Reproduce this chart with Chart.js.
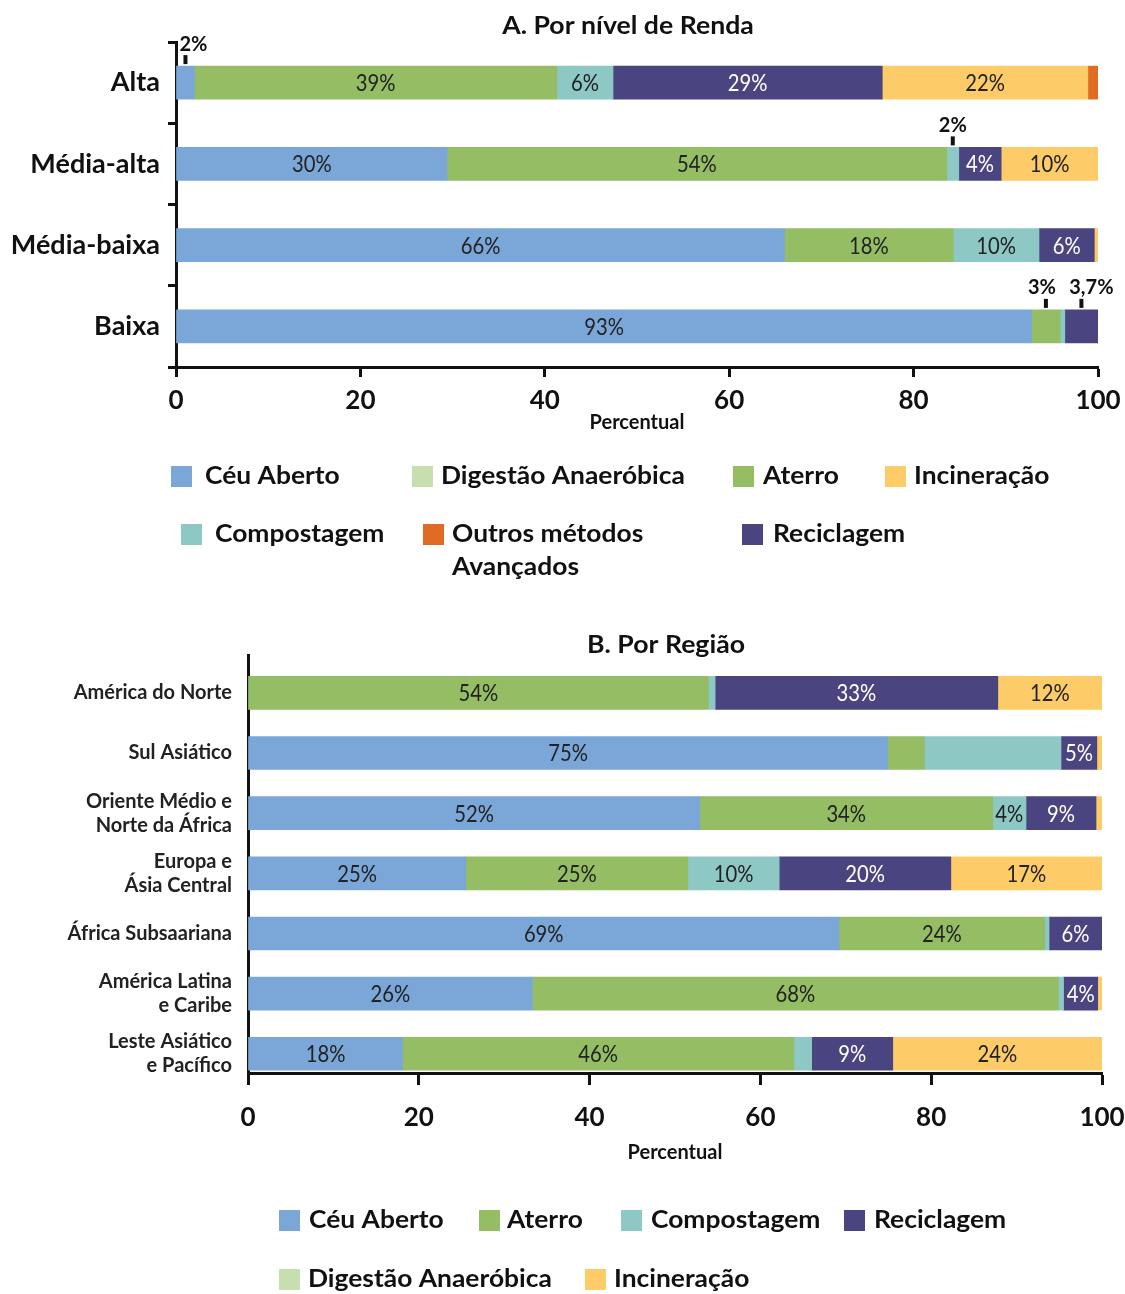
<!DOCTYPE html>
<html>
<head>
<meta charset="utf-8">
<script src="https://cdn.jsdelivr.net/npm/chart.js@4.4.1/dist/chart.umd.min.js"></script>
<style>
  html, body { margin: 0; padding: 0; background: #ffffff; width: 1125px; height: 1294px; overflow: hidden; }
  .panel { position: absolute; left: 0; }
</style>
</head>
<body>
<div class="panel" style="top:0px"><canvas id="chartA" width="1125" height="590"></canvas></div>
<div class="panel" style="top:590px"><canvas id="chartB" width="1125" height="704"></canvas></div>
<script>
// ---------- series ----------
const seriesNames = ['Céu Aberto', 'Aterro', 'Compostagem', 'Reciclagem', 'Incineração', 'Outros métodos Avançados', 'Digestão Anaeróbica'];
const seriesColors = ['#7BA6D8', '#95BD63', '#8DC8C5', '#4A4581', '#FDCB67', '#E06B22', '#C7DEAE'];
const seriesTextColors = ['#222222', '#222222', '#222222', '#ffffff', '#222222', '#222222', '#222222'];
const percentTicks = [0, 20, 40, 60, 80, 100];

// ---------- Panel A: Por nível de Renda ----------
const incomeGroups = ['Alta', 'Média-alta', 'Média-baixa', 'Baixa'];
const incomeCeuAberto   = [2.0, 29.4, 66.0, 92.8];
const incomeAterro      = [39.3, 54.2, 18.3, 3.1];
const incomeCompostagem = [6.1, 1.3, 9.3, 0.5];
const incomeReciclagem  = [29.2, 4.6, 6.0, 3.6];
const incomeIncineracao = [22.3, 10.5, 0.4, 0];
const incomeOutros      = [1.1, 0, 0, 0];
const incomeDigestao    = [0, 0, 0, 0];
const incomeTextCeu  = ['', '30%', '66%', '93%'];
const incomeTextAte  = ['39%', '54%', '18%', ''];
const incomeTextComp = ['6%', '', '10%', ''];
const incomeTextRec  = ['29%', '4%', '6%', ''];
const incomeTextInc  = ['22%', '10%', '', ''];
const incomeTextOut  = ['', '', '', ''];
const incomeTextDig  = ['', '', '', ''];
const incomeCalloutGroup  = ['Alta', 'Média-alta', 'Baixa', 'Baixa'];
const incomeCalloutSeries = ['Céu Aberto', 'Compostagem', 'Aterro', 'Reciclagem'];
const incomeCalloutText   = ['2%', '2%', '3%', '3,7%'];

// ---------- Panel B: Por Região ----------
const regionNames = [['América do Norte'], ['Sul Asiático'], ['Oriente Médio e', 'Norte da África'], ['Europa e', 'Ásia Central'], ['África Subsaariana'], ['América Latina', 'e Caribe'], ['Leste Asiático', 'e Pacífico']];
const regionCeuAberto   = [0, 74.9, 52.9, 25.5, 69.2, 33.3, 18.1];
const regionAterro      = [53.9, 4.3, 34.3, 26.0, 24.1, 61.6, 45.8];
const regionCompostagem = [0.8, 16.0, 3.9, 10.7, 0.5, 0.6, 2.1];
const regionReciclagem  = [33.1, 4.2, 8.2, 20.1, 6.2, 4.0, 9.5];
const regionIncineracao = [12.2, 0.6, 0.7, 17.7, 0, 0.5, 24.5];
const regionDigestao    = [0, 0, 0, 0, 0, 0, 0];
const regionTextCeu  = ['', '75%', '52%', '25%', '69%', '26%', '18%'];
const regionTextAte  = ['54%', '', '34%', '25%', '24%', '68%', '46%'];
const regionTextComp = ['', '', '4%', '10%', '', '', ''];
const regionTextRec  = ['33%', '5%', '9%', '20%', '6%', '4%', '9%'];
const regionTextInc  = ['12%', '', '', '17%', '', '', '24%'];
const regionTextDig  = ['', '', '', '', '', '', ''];

// ---------- helpers ----------
function makeDataset(name, values, texts) {
  const k = seriesNames.indexOf(name);
  return {
    label: name,
    data: values,
    texts: texts,
    textColor: seriesTextColors[k],
    backgroundColor: seriesColors[k],
    borderWidth: 0,
    barThickness: 33
  };
}

function stretchedText(ctx, text, x, y, sx, align) {
  ctx.save();
  ctx.translate(x, y);
  ctx.scale(sx, 1);
  ctx.textAlign = align;
  ctx.textBaseline = 'middle';
  ctx.fillText(text, 0, 0);
  ctx.restore();
}

const barTextPlugin = {
  id: 'barText',
  afterDatasetsDraw(chart) {
    const ctx = chart.ctx;
    chart.data.datasets.forEach((ds, di) => {
      const meta = chart.getDatasetMeta(di);
      meta.data.forEach((el, i) => {
        const t = ds.texts && ds.texts[i];
        if (!t) return;
        ctx.save();
        ctx.font = '23px Lato';
        ctx.fillStyle = ds.textColor;
        stretchedText(ctx, t, (el.x + el.base) / 2, el.y + 1, 0.88, 'center');
        ctx.restore();
      });
    });
  }
};

const calloutPlugin = {
  id: 'callouts',
  afterDatasetsDraw(chart, args, opts) {
    if (!opts.groups) return;
    const ctx = chart.ctx;
    opts.groups.forEach((g, k) => {
      const di = chart.data.datasets.findIndex(d => d.label === opts.series[k]);
      const ci = chart.data.labels.indexOf(g);
      const el = chart.getDatasetMeta(di).data[ci];
      const x = (el.x + el.base) / 2;
      const top = el.y - el.height / 2;
      ctx.save();
      ctx.fillStyle = '#111';
      ctx.fillRect(x - 2, top - 11, 4, 9);
      ctx.font = 'bold 20px Lato';
      stretchedText(ctx, opts.texts[k], x + opts.dx[k], top - 22, 1.0, 'center');
      ctx.restore();
    });
  }
};

const decorPlugin = {
  id: 'decor',
  afterDraw(chart, args, opts) {
    const ctx = chart.ctx;
    ctx.save();
    ctx.fillStyle = '#111';
    ctx.font = 'bold 24px Lato';
    stretchedText(ctx, opts.title, opts.titleX, opts.titleY, 1.11, 'center');
    ctx.font = 'bold 24px Lato';
    opts.legend.forEach(item => {
      const k = seriesNames.indexOf(item.name);
      ctx.fillStyle = seriesColors[k];
      ctx.fillRect(item.bx, item.y - 10, 21, 21);
      ctx.fillStyle = '#111';
      item.lines.forEach((ln, j) => stretchedText(ctx, ln, item.tx, item.y + j * 33, 1.1, 'left'));
    });
    ctx.restore();
  }
};

const axisFont = { family: 'Lato', size: 26, weight: 'bold' };
const noSidePadding = s => { s.paddingLeft = 0; s.paddingRight = 0; };

// ---------- Chart A ----------
new Chart(document.getElementById('chartA'), {
  type: 'bar',
  data: {
    labels: incomeGroups,
    datasets: [
      makeDataset('Céu Aberto', incomeCeuAberto, incomeTextCeu),
      makeDataset('Aterro', incomeAterro, incomeTextAte),
      makeDataset('Compostagem', incomeCompostagem, incomeTextComp),
      makeDataset('Reciclagem', incomeReciclagem, incomeTextRec),
      makeDataset('Incineração', incomeIncineracao, incomeTextInc),
      makeDataset('Outros métodos Avançados', incomeOutros, incomeTextOut),
      makeDataset('Digestão Anaeróbica', incomeDigestao, incomeTextDig)
    ]
  },
  options: {
    responsive: false,
    animation: false,
    indexAxis: 'y',
    layout: { padding: { top: 42, right: 27, bottom: 155, left: 0 } },
    plugins: {
      legend: { display: false },
      tooltip: { enabled: false },
      callouts: { groups: incomeCalloutGroup, series: incomeCalloutSeries, texts: incomeCalloutText, dx: [8, 0, -4, 10] },
      decor: {
        title: 'A. Por nível de Renda', titleX: 628, titleY: 26,
        legend: [
          { name: 'Céu Aberto', bx: 171, tx: 205, y: 476, lines: ['Céu Aberto'] },
          { name: 'Digestão Anaeróbica', bx: 412, tx: 441, y: 476, lines: ['Digestão Anaeróbica'] },
          { name: 'Aterro', bx: 733, tx: 763, y: 476, lines: ['Aterro'] },
          { name: 'Incineração', bx: 885, tx: 914, y: 476, lines: ['Incineração'] },
          { name: 'Compostagem', bx: 181, tx: 215, y: 534, lines: ['Compostagem'] },
          { name: 'Outros métodos Avançados', bx: 423, tx: 452, y: 534, lines: ['Outros métodos', 'Avançados'] },
          { name: 'Reciclagem', bx: 742, tx: 773, y: 534, lines: ['Reciclagem'] }
        ]
      }
    },
    scales: {
      x: {
        type: 'linear', min: 0, max: 100, stacked: true,
        afterBuildTicks: s => { s.ticks = percentTicks.map(v => ({ value: v })); },
        afterFit: s => { s.height = 68; noSidePadding(s); },
        grid: { drawOnChartArea: false, tickLength: 10, tickWidth: 3, color: '#111' },
        border: { width: 3, color: '#111' },
        ticks: { font: axisFont, color: '#111', padding: 8, maxRotation: 0 },
        title: { display: true, text: 'Percentual', font: { family: 'Lato', size: 20, weight: 'bold' }, color: '#111', padding: 0 }
      },
      y: {
        stacked: true,
        afterFit: s => { s.width = 176; },
        grid: { offset: true, drawOnChartArea: false, tickLength: 8, tickWidth: 3, color: '#111' },
        border: { width: 3, color: '#111' },
        ticks: { font: { family: 'Lato', size: 27, weight: 'bold' }, color: '#111', padding: 8 }
      }
    }
  },
  plugins: [barTextPlugin, calloutPlugin, decorPlugin]
});

// ---------- Chart B ----------
const toXY = arr => arr.map((v, i) => ({ x: v, y: i }));
new Chart(document.getElementById('chartB'), {
  type: 'bar',
  data: {
    datasets: [
      makeDataset('Céu Aberto', toXY(regionCeuAberto), regionTextCeu),
      makeDataset('Aterro', toXY(regionAterro), regionTextAte),
      makeDataset('Compostagem', toXY(regionCompostagem), regionTextComp),
      makeDataset('Reciclagem', toXY(regionReciclagem), regionTextRec),
      makeDataset('Incineração', toXY(regionIncineracao), regionTextInc),
      makeDataset('Digestão Anaeróbica', toXY(regionDigestao), regionTextDig)
    ]
  },
  options: {
    responsive: false,
    animation: false,
    indexAxis: 'y',
    layout: { padding: { top: 65, right: 23, bottom: 129, left: 0 } },
    plugins: {
      legend: { display: false },
      tooltip: { enabled: false },
      decor: {
        title: 'B. Por Região', titleX: 666, titleY: 55,
        legend: [
          { name: 'Céu Aberto', bx: 279, tx: 309, y: 630, lines: ['Céu Aberto'] },
          { name: 'Aterro', bx: 479, tx: 507, y: 630, lines: ['Aterro'] },
          { name: 'Compostagem', bx: 621, tx: 651, y: 630, lines: ['Compostagem'] },
          { name: 'Reciclagem', bx: 844, tx: 874, y: 630, lines: ['Reciclagem'] },
          { name: 'Digestão Anaeróbica', bx: 279, tx: 308, y: 689, lines: ['Digestão Anaeróbica'] },
          { name: 'Incineração', bx: 585, tx: 614, y: 689, lines: ['Incineração'] }
        ]
      }
    },
    scales: {
      x: {
        type: 'linear', min: 0, max: 100, stacked: true,
        afterBuildTicks: s => { s.ticks = percentTicks.map(v => ({ value: v })); },
        afterFit: s => { s.height = 92; noSidePadding(s); },
        grid: { drawOnChartArea: false, tickLength: 12, tickWidth: 3, color: '#111' },
        border: { width: 3, color: '#111' },
        ticks: { font: axisFont, color: '#111', padding: 17, maxRotation: 0 },
        title: { display: true, text: 'Percentual', font: { family: 'Lato', size: 20, weight: 'bold' }, color: '#111', padding: 0 }
      },
      y: {
        type: 'linear', reverse: true, offset: false, min: -0.63, max: 6.32, stacked: true,
        afterBuildTicks: s => { s.ticks = regionNames.map((_, i) => ({ value: i })); },
        afterFit: s => { s.width = 248; s.paddingTop = 0; s.paddingBottom = 0; },
        grid: { drawOnChartArea: false, drawTicks: false },
        border: { width: 3, color: '#111' },
        ticks: {
          callback: v => regionNames[v],
          font: { family: 'Lato', size: 20, weight: 'bold', lineHeight: 1.2 },
          color: '#222', padding: 16
        }
      }
    }
  },
  plugins: [barTextPlugin, decorPlugin]
});
</script>
</body>
</html>
